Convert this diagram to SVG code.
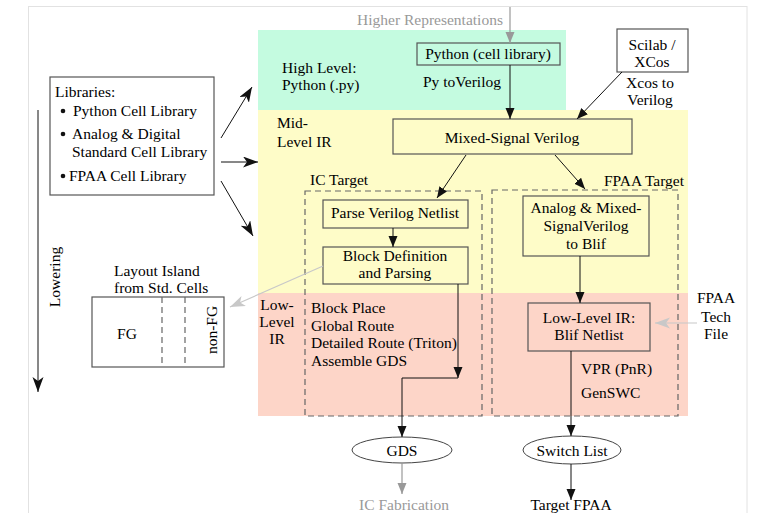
<svg xmlns="http://www.w3.org/2000/svg" width="776" height="513" viewBox="0 0 776 513">
<style>
text{font-family:"Liberation Serif","Times New Roman",serif;font-size:15.5px;fill:#000}
.c{text-anchor:middle}
.r{text-anchor:end}
.g{fill:#999}
.box{fill:none;stroke:#555;stroke-width:1.2}
.dash{fill:none;stroke:#666;stroke-width:1.2;stroke-dasharray:6,4}
.ln{fill:none;stroke:#111;stroke-width:1}
.gl{fill:none;stroke:#999;stroke-width:1.2}
.lg{fill:none;stroke:#c8c8c8;stroke-width:1.2}
</style>
<defs>
<marker id="ah" markerUnits="userSpaceOnUse" markerWidth="12" markerHeight="10" refX="11" refY="4.5" orient="auto"><path d="M0,0 L11,4.5 L0,9 z" fill="#111"/></marker>
<marker id="an" markerUnits="userSpaceOnUse" markerWidth="16" markerHeight="12" refX="15" refY="5.5" orient="auto"><path d="M0,0 L15,5.5 L0,11 L4,5.5 z" fill="#111"/></marker>
<marker id="ag" markerUnits="userSpaceOnUse" markerWidth="12" markerHeight="10" refX="11" refY="4.5" orient="auto"><path d="M0,0 L11,4.5 L0,9 z" fill="#999"/></marker>
<marker id="al" markerUnits="userSpaceOnUse" markerWidth="16" markerHeight="12" refX="15" refY="5.5" orient="auto"><path d="M0,0 L15,5.5 L0,11 L4,5.5 z" fill="#c8c8c8"/></marker>
</defs>
<rect width="776" height="513" fill="#fff"/>
<rect x="28.5" y="6.5" width="718.5" height="520" fill="none" stroke="#e2e2e2" stroke-width="1"/>

<g id="regions">
<rect x="258" y="30" width="308" height="80" fill="#c4fbe0"/>
<rect x="258" y="110" width="430" height="183" fill="#fefcc8"/>
<rect x="258" y="293" width="430" height="123" fill="#fdd5c8"/>
<text x="282" y="73">High Level:</text>
<text x="282" y="90">Python (.py)</text>
<text x="277" y="128">Mid-</text>
<text x="277" y="147">Level IR</text>
<text class="c" x="277" y="310">Low-</text>
<text class="c" x="277" y="327">Level</text>
<text class="c" x="277" y="344">IR</text>
</g>

<g id="higher"><text class="c g" x="430" y="25">Higher Representations</text></g>

<g id="python-cell">
<rect class="box" x="417" y="43" width="143" height="22"/>
<text class="c" x="488" y="59">Python (cell library)</text>
</g>
<g id="py-label"><text x="423" y="87">Py toVerilog</text></g>

<g id="scilab">
<rect class="box" x="617" y="29" width="71" height="43"/>
<text class="c" x="652" y="50">Scilab /</text>
<text class="c" x="652" y="67">XCos</text>
</g>
<g id="xcos-label">
<text class="c" x="650" y="88">Xcos to</text>
<text class="c" x="650" y="105">Verilog</text>
</g>

<g id="libraries">
<rect class="box" x="50" y="77" width="164" height="118"/>
<text x="55" y="97">Libraries:</text>
<circle cx="63" cy="111" r="2.3" fill="#111"/>
<text x="73" y="116">Python Cell Library</text>
<circle cx="63" cy="134" r="2.3" fill="#111"/>
<text x="72" y="139">Analog &amp; Digital</text>
<text x="72" y="157">Standard Cell Library</text>
<circle cx="63" cy="176" r="2.3" fill="#111"/>
<text x="69" y="181">FPAA Cell Library</text>
</g>

<g id="lowering">
<text class="c" transform="translate(60,277) rotate(-90)">Lowering</text>
</g>

<g id="layout-island">
<text x="114" y="276">Layout Island</text>
<text x="114" y="293">from Std. Cells</text>
<rect class="box" x="92" y="297" width="132" height="70"/>
<line x1="162" y1="297" x2="162" y2="367" stroke="#666" stroke-width="1.2" stroke-dasharray="6,4"/>
<line x1="185" y1="297" x2="185" y2="367" stroke="#666" stroke-width="1.2" stroke-dasharray="6,4"/>
<text class="c" x="127" y="339">FG</text>
<text class="c" transform="translate(217,330) rotate(-90)">non-FG</text>
</g>

<g id="mixed-signal">
<rect class="box" x="393" y="119" width="239" height="35"/>
<text class="c" x="512" y="143">Mixed-Signal Verilog</text>
</g>

<g id="ic-target">
<rect class="dash" x="305" y="191" width="177" height="225"/>
<text x="310" y="185">IC Target</text>
</g>
<g id="fpaa-target">
<rect class="dash" x="492" y="190" width="186" height="226"/>
<text class="r" x="684" y="186">FPAA Target</text>
</g>

<g id="parse-verilog">
<rect class="box" x="323" y="200" width="145" height="28"/>
<text class="c" x="395" y="218">Parse Verilog Netlist</text>
</g>
<g id="block-def">
<rect class="box" x="323" y="247" width="145" height="37"/>
<text class="c" x="395" y="261">Block Definition</text>
<text class="c" x="395" y="278">and Parsing</text>
</g>
<g id="ic-steps">
<text x="311" y="313">Block Place</text>
<text x="311" y="331">Global Route</text>
<text x="311" y="348">Detailed Route (Triton)</text>
<text x="311" y="366">Assemble GDS</text>
</g>

<g id="analog-blif">
<rect class="box" x="523" y="196" width="126" height="60"/>
<text class="c" x="586" y="213">Analog &amp; Mixed-</text>
<text class="c" x="586" y="231">SignalVerilog</text>
<text class="c" x="586" y="249">to Blif</text>
</g>
<g id="blif-netlist">
<rect class="box" x="528" y="303" width="122" height="48"/>
<text class="c" x="589" y="323">Low-Level IR:</text>
<text class="c" x="589" y="340">Blif Netlist</text>
</g>
<g id="fpaa-steps">
<text x="581" y="374">VPR (PnR)</text>
<text x="581" y="398">GenSWC</text>
</g>
<g id="tech-file">
<text class="c" x="716" y="303">FPAA</text>
<text class="c" x="716" y="322">Tech</text>
<text class="c" x="716" y="339">File</text>
</g>

<g id="gds">
<ellipse cx="402" cy="450" rx="50" ry="13" fill="#fff" stroke="#444" stroke-width="1"/>
<text class="c" x="402" y="456">GDS</text>
</g>
<g id="switch-list">
<ellipse cx="572" cy="450" rx="49" ry="14" fill="#fff" stroke="#444" stroke-width="1"/>
<text class="c" x="572" y="456">Switch List</text>
</g>
<g id="ic-fab"><text class="c g" x="404" y="510">IC Fabrication</text></g>
<g id="target-fpaa"><text class="c" x="571" y="510">Target FPAA</text></g>

<g id="connectors">
<line class="gl" x1="510" y1="7" x2="510" y2="43" marker-end="url(#ag)"/>
<line class="ln" x1="510" y1="65" x2="510" y2="119" marker-end="url(#ah)"/>
<line class="ln" x1="622" y1="72" x2="577" y2="119" marker-end="url(#ah)"/>
<line class="ln" x1="221" y1="138" x2="252" y2="87" marker-end="url(#an)"/>
<line class="ln" x1="221" y1="162" x2="258" y2="162" marker-end="url(#an)"/>
<line class="ln" x1="221" y1="181" x2="253" y2="236" marker-end="url(#an)"/>
<line class="ln" x1="38" y1="110" x2="38" y2="392" stroke-width="1.2" marker-end="url(#an)"/>
<line class="ln" x1="466" y1="155" x2="437" y2="198" marker-end="url(#ah)"/>
<line class="ln" x1="555" y1="155" x2="585" y2="189" marker-end="url(#ah)"/>
<line class="ln" x1="393" y1="228" x2="393" y2="247" marker-end="url(#ah)"/>
<line class="lg" x1="323" y1="266" x2="230" y2="307" marker-end="url(#al)"/>
<line class="ln" x1="458" y1="284" x2="458" y2="378" marker-end="url(#ah)"/>
<polyline class="ln" points="458,378 402,378 402,437" marker-end="url(#ah)"/>
<line class="gl" x1="402" y1="463" x2="402" y2="494" marker-end="url(#ag)"/>
<line class="ln" x1="580" y1="256" x2="580" y2="303" marker-end="url(#ah)"/>
<line class="lg" x1="697" y1="323" x2="655" y2="323" marker-end="url(#al)"/>
<line class="ln" x1="571" y1="351" x2="571" y2="436" marker-end="url(#ah)"/>
<line class="ln" x1="571" y1="464" x2="571" y2="500" marker-end="url(#ah)"/>
</g>
</svg>
